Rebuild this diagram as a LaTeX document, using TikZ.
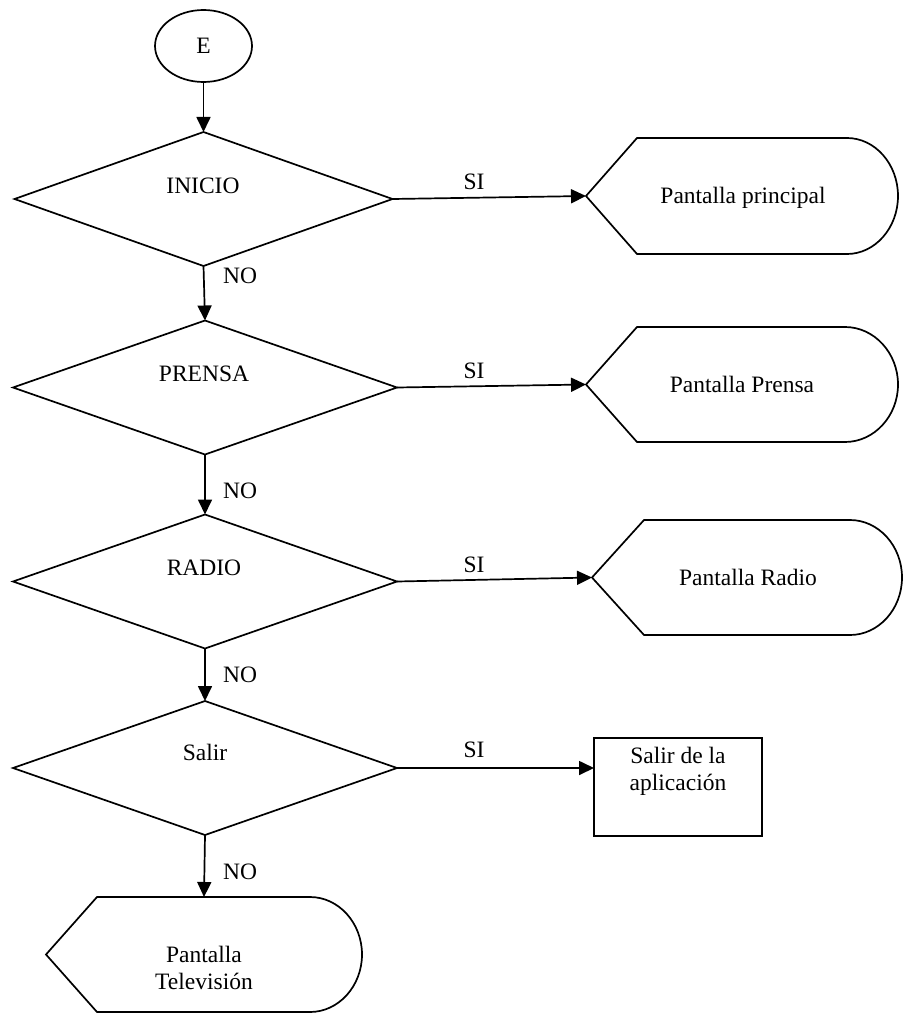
\documentclass[tikz,border=0pt]{standalone}
\usepackage{fontspec}
\setmainfont{Liberation Serif}
\usetikzlibrary{shapes.geometric,arrows.meta}

% Display symbol: pointed left end, flat top/bottom, rounded right end.
% #1 name, #2 left point x, #3 slant end x, #4 curve start x, #5 right x,
% #6 centre y, #7 half height
\newcommand\pantalla[7]{%
  \coordinate (#1) at (#2,#6);
  \coordinate (#1-n) at ({(#2+#5)/2},{#6-#7});
  \draw[shp] (#2,#6) -- (#3,{#6-#7}) -- (#4,{#6-#7})
    .. controls ({#4+0.55*(#5-#4)},{#6-#7}) and (#5,{#6-0.55*#7}) .. (#5,#6)
    .. controls (#5,{#6+0.55*#7}) and ({#4+0.55*(#5-#4)},{#6+#7}) .. (#4,{#6+#7})
    -- (#3,{#6+#7}) -- cycle;
}

\tikzset{
  shp/.style={draw, line width=1.7pt, line join=miter},
  decision/.style={shp, diamond, inner sep=0pt, outer sep=0pt,
    minimum width=384pt, minimum height=134pt},
  txt/.style={inner sep=0pt, anchor=base},
  arr/.style={line width=1.7pt, -{Triangle[length=15pt,width=14pt]}},
}

\begin{document}
\begin{tikzpicture}[x=1pt, y=-1pt, font=\fontsize{23.5}{27}\selectfont]
\useasboundingbox (0,0) rectangle (909,1014);

% start symbol
\node[shp, ellipse, inner sep=0pt, outer sep=0pt,
      minimum width=97pt, minimum height=72pt] (e) at (203.5,46) {};
\node[txt] (te) at (203.5,54) {E};

% decisions
\node[decision, minimum width=378pt] (d1) at (203.5,199) {};
\node[decision] (d2) at (205,387.5) {};
\node[decision] (d3) at (205,581.5) {};
\node[decision] (d4) at (205,768) {};
\node[txt] (t1) at (203,193) {INICIO};
\node[txt] (t2) at (204,381) {PRENSA};
\node[txt] (t3) at (204,575) {RADIO};
\node[txt] (t4) at (205,760) {Salir};

% screens
\pantalla{p1}{586}{637}{847}{898}{196}{58}
\pantalla{p2}{586}{637}{845}{898}{384.5}{57.5}
\pantalla{p3}{592}{644}{850}{902}{577.5}{57.5}
\pantalla{tv}{46}{97}{310}{362}{954.5}{57.5}
\node[txt] (tp1) at (743,203) {Pantalla principal};
\node[txt] (tp2) at (742,392) {Pantalla Prensa};
\node[txt] (tp3) at (748,585) {Pantalla Radio};
\node[inner sep=0pt, align=center] (ttv) at (204,968) {Pantalla\\Televisión};

% exit box
\node[shp, rectangle, inner sep=0pt, outer sep=0pt,
      minimum width=168pt, minimum height=98pt] (salir) at (678,787) {};
\node[inner sep=0pt, align=center] (tsalir) at (678,771) {Salir de la\\aplicación};

% connectors
\draw[arr] (e.south) -- (d1.north);
\draw[arr] (d1.south) -- (d2.north);
\draw[arr] (d2.south) -- (d3.north);
\draw[arr] (d3.south) -- (d4.north);
\draw[arr] (d4.south) -- (tv-n);
\draw[arr] (d1.east) -- (p1);
\draw[arr] (d2.east) -- (p2);
\draw[arr] (d3.east) -- (p3);
\draw[arr] (d4.east) -- (d4.east -| salir.west);

% branch labels
\node[txt, anchor=base west] (n1) at (223,283) {NO};
\node[txt, anchor=base west] (n2) at (223,498) {NO};
\node[txt, anchor=base west] (n3) at (223,682) {NO};
\node[txt, anchor=base west] (n4) at (223,879) {NO};
\node[txt] (s1) at (474,189) {SI};
\node[txt] (s2) at (474,378) {SI};
\node[txt] (s3) at (474,572) {SI};
\node[txt] (s4) at (474,757) {SI};
\end{tikzpicture}
\end{document}
